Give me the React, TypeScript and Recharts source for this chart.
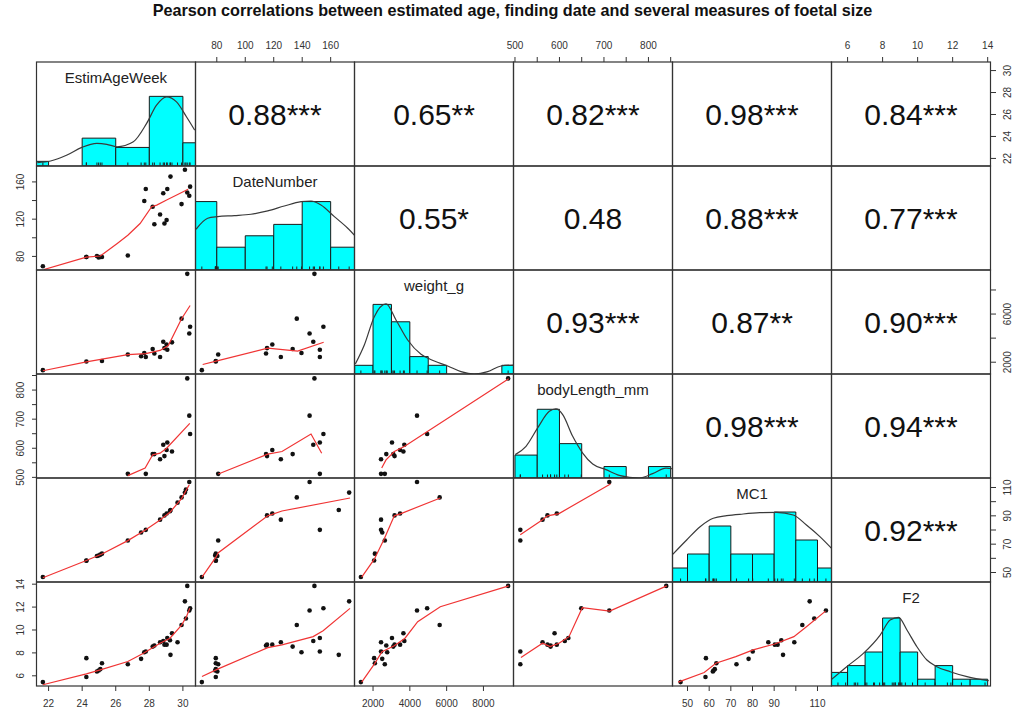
import React from 'react';
import { ComposedChart, XAxis, YAxis, Scatter, Line, ReferenceArea } from 'recharts';

const FONT = '"Liberation Sans", Arial, Helvetica, sans-serif';

const title = 'Pearson correlations between estimated age, finding date and several measures of foetal size';
const varNames = ['EstimAgeWeek', 'DateNumber', 'weight_g', 'bodyLength_mm', 'MC1', 'F2'];

// one entry per foetus, null = not measured
const estimAgeWeek = [21.66, 24.25, 24.25, 24.88, 24.98, 25.08, 25.18, 26.72, 27.51, 27.7, 27.79, 28.2, 28.3, 28.64, 28.83, 28.9, 29.03, 29.07, 29.23, 29.26, 29.35, 29.68, 29.92, 30.12, 30.18, 30.26, 30.38, 30.43];
const dateNumber = [69.5, 79.3, 79.3, 80.4, 78.9, 79.3, 79.3, 81, null, 139.5, 152.4, 133.3, 114.6, 125, 147.8, 115.3, 119, 152.4, null, 165.7, null, null, 136.2, 173, null, 148.6, 145.2, 154.9];
const weightG = [1340, null, 2060, null, null, null, 2100, 2640, 2500, 2770, 2435, 3100, 2720, 2435, 3700, 3170, 3470, 3030, null, null, 3650, null, 5620, null, null, 9340, 4390, 4940];
const bodyLengthMm = [null, null, null, null, null, null, null, 512, null, null, 512, 580, 580, 562, 612, 573, 594, 620, null, null, 589, null, null, null, null, 840, 712, 649];
const mc1 = [46.8, 58.3, 58.5, 61.7, 62.0, 62.6, 63.3, 72.6, 78.2, null, 80.1, null, null, 87.3, null, 90.3, 91.6, null, 93.3, 94.1, null, 99.3, 103.0, 106.4, 108.5, null, 113.9, null];
const f2 = [5.45, 5.89, 7.54, 6.38, 6.46, 6.58, 7.1, 7.01, 7.48, 8.06, 8.12, 8.55, 8.64, 8.93, 9.04, 8.72, 8.72, 9.3, 9.1, 7.83, 9.71, 8.93, 10.43, 12.5, 11.0, 13.85, 11.7, 11.9];
const allVars = [estimAgeWeek, dateNumber, weightG, bodyLengthMm, mc1, f2];

// plotting range of each variable
const ranges = [[21.31, 30.78], [65.4, 177.1], [1020, 9660], [497.8, 855.2], [43.3, 116.7], [5.11, 14.19]];

// axis ticks and which of them carry a label
const ageTicks = [22, 24, 26, 28, 30];
const dateTicks = [80, 100, 120, 140, 160];
const weightTicks = [2000, 4000, 6000, 8000];
const bodyTicks = [500, 550, 600, 650, 700, 750, 800, 850];
const mc1Ticks = [50, 60, 70, 80, 90, 100, 110];
const f2Ticks = [6, 8, 10, 12, 14];
const bodyLabels = [500, 600, 700, 800];
const dateSideLabels = [80, 120, 160];
const weightSideLabels = [2000, 6000];
const mc1BottomLabels = [50, 60, 70, 80, 90, 110];
const mc1SideLabels = [50, 70, 90, 110];
const varTicks = [ageTicks, dateTicks, weightTicks, bodyTicks, mc1Ticks, f2Ticks];
const hLabels = [ageTicks, dateTicks, weightTicks, bodyLabels, mc1BottomLabels, f2Ticks];
const vLabels = [ageTicks, dateSideLabels, weightSideLabels, bodyLabels, mc1SideLabels, f2Ticks];

// histograms: first bin start, bin width, counts, top of y range
const histStart = [20, 60, 1000, 500, 40, 5];
const histWidth = [2, 20, 1000, 50, 10, 1];
const ageCounts = [1, 0, 6, 4, 15, 5];
const dateCounts = [6, 2, 3, 4, 6, 2];
const weightCounts = [1, 8, 6, 2, 1, 0, 0, 0, 1];
const bodyCounts = [2, 6, 3, 0, 1, 0, 1];
const mc1Counts = [1, 2, 4, 2, 2, 5, 3, 1];
const f2Counts = [2, 3, 5, 10, 5, 1, 3, 1, 1];
const histCounts = [ageCounts, dateCounts, weightCounts, bodyCounts, mc1Counts, f2Counts];
const histTop = [22.4, 9.12, 11.95, 9.08, 7.43, 15.3];

// density curves (in count units)
const ageDensity = [[21.33, 0.71], [22.12, 1.08], [23.1, 2.37], [23.98, 4.02], [24.88, 4.88], [25.47, 4.67], [26.07, 4.15], [27.05, 5.23], [27.84, 9.18], [28.43, 13.1], [29.03, 14.9], [29.62, 13.8], [30.21, 10.6], [30.7, 7.74]];
const dateDensity = [[65.4, 3.57], [73.6, 4.54], [80.6, 4.68], [92.3, 4.77], [104, 4.89], [115.8, 5.18], [127.4, 5.61], [139.2, 5.99], [146.2, 6.05], [153.2, 5.7], [162.6, 4.68], [172, 3.66], [177.1, 3.0]];
const weightDensity = [[1038, 1.15], [1526, 3.33], [2069, 6.59], [2705, 8.05], [3248, 6.21], [3882, 3.91], [4607, 2.26], [5330, 1.49], [6057, 0.92], [6780, 0.27], [7503, 0], [8231, 0.27], [8954, 0.92], [9644, 1.03]];
const bodyDensity = [[500.7, 2.04], [524.8, 2.77], [551, 4.37], [577.2, 5.82], [592.2, 6.03], [607.3, 5.53], [629.7, 3.64], [652.2, 2.18], [674.7, 1.22], [704.6, 0.73], [734.5, 0.23], [779.4, 0], [809.5, 0.38], [839.5, 0.87], [854.5, 0.81]];
const mc1Density = [[43.2, 1.98], [49.6, 3], [55.8, 3.95], [61.9, 4.55], [68.1, 4.74], [75.7, 4.86], [83.4, 4.95], [91.1, 4.98], [98.8, 4.79], [104.9, 4.07], [111.1, 3.24], [116.5, 2.4]];
const f2Density = [[5.09, 0.98], [5.95, 2.84], [6.9, 4.8], [7.86, 7.5], [8.43, 9.7], [8.91, 10.1], [9.39, 8.24], [9.96, 5.78], [10.53, 3.82], [11.1, 2.84], [11.86, 2.1], [12.82, 1.37], [14.06, 0.78]];
const densities = [ageDensity, dateDensity, weightDensity, bodyDensity, mc1Density, f2Density];

// lowess lines of the lower panels, [x, y]
const ageDateSmooth = [[21.72, 65.9], [24.25, 79.3], [25.08, 80.4], [26.07, 93.7], [26.72, 102.7], [27.45, 115.3], [28.14, 133.3], [28.44, 135.1], [29.03, 140.5], [29.63, 145.9], [30.31, 152.1]];
const ageWeightSmooth = [[21.66, 1290], [24.25, 2024], [26.72, 2626], [27.79, 2708], [28.64, 2979], [29.13, 3387], [29.92, 5615], [30.43, 6708]];
const ageBodySmooth = [[26.72, 505.8], [27.75, 532], [28.2, 577.5], [28.64, 583], [29.03, 600], [30.41, 685.7]];
const ageMc1Smooth = [[21.66, 46.3], [24.25, 58.5], [25.18, 63.1], [26.72, 72.5], [27.79, 80.1], [28.64, 87], [29.23, 92.5], [29.92, 102.2], [30.38, 111.9]];
const ageF2Smooth = [[21.66, 5.22], [24.25, 6.17], [25.08, 6.52], [26.72, 7.25], [27.65, 7.97], [28.64, 8.84], [29.23, 9.28], [29.92, 10.43], [30.21, 11.16], [30.41, 11.89]];
const dateWeightSmooth = [[70.1, 1812], [80.2, 2106], [115.8, 3167], [136.8, 2922], [155.1, 3657]];
const dateBodySmooth = [[81.1, 511.6], [115.8, 579.8], [125.8, 588.8], [146.2, 649], [153.7, 583]];
const dateMc1Smooth = [[69.6, 46.8], [79.4, 60.8], [81.1, 64], [115.8, 90], [125.8, 93.4], [173.6, 102.6]];
const dateF2Smooth = [[69.6, 5.94], [80.6, 6.58], [115.8, 8.46], [125.8, 8.7], [147.7, 9.42], [154.7, 9.94], [173.6, 11.89]];
const weightBodySmooth = [[2471, 532], [2705, 560], [3158, 589], [3699, 606], [9372, 839]];
const weightMc1Smooth = [[1384, 46.8], [2069, 59.4], [2612, 73.9], [3156, 90], [3520, 91.6], [5655, 102.6]];
const weightF2Smooth = [[1384, 5.45], [2069, 7.02], [2487, 8.11], [3156, 8.63], [3737, 9.28], [4427, 10.72], [5655, 12.03], [9372, 13.85]];
const bodyMc1Smooth = [[511.9, 76.7], [561.9, 87.2], [573.1, 90], [599, 91.6], [714.6, 112.5]];
const bodyF2Smooth = [[513.4, 7.59], [561.9, 8.84], [578.9, 8.55], [599, 8.84], [621.4, 9.42], [651.3, 11.94], [713, 11.65], [841.2, 13.85]];
const mc1F2Smooth = [[45.7, 5.45], [57.7, 6.29], [63.1, 7.1], [72.3, 7.68], [80.3, 8.26], [90.3, 8.78], [99.1, 9.42], [104.9, 10.29], [113.7, 11.65]];
const smoothLines: Record<string, number[][]> = {
  '1-0': ageDateSmooth, '2-0': ageWeightSmooth, '3-0': ageBodySmooth, '4-0': ageMc1Smooth, '5-0': ageF2Smooth,
  '2-1': dateWeightSmooth, '3-1': dateBodySmooth, '4-1': dateMc1Smooth, '5-1': dateF2Smooth,
  '3-2': weightBodySmooth, '4-2': weightMc1Smooth, '5-2': weightF2Smooth,
  '4-3': bodyMc1Smooth, '5-3': bodyF2Smooth,
  '5-4': mc1F2Smooth,
};

// correlations shown in the upper panels
const corrRow1 = ['0.88***', '0.65**', '0.82***', '0.98***', '0.84***'];
const corrRow2 = ['0.55*', '0.48', '0.88***', '0.77***'];
const corrRow3 = ['0.93***', '0.87**', '0.90***'];
const corrRow4 = ['0.98***', '0.94***'];
const corrRow5 = ['0.92***'];
const corrRows = [corrRow1, corrRow2, corrRow3, corrRow4, corrRow5];

const X0 = 36.5;
const Y0 = 62;
const CW = 159;
const CH = 104;
const PAD = 30;

const pairPoints = (c: number, r: number) =>
  estimAgeWeek
    .map((_, i) => ({ x: allVars[c][i], y: allVars[r][i] }))
    .filter((p) => p.x != null && p.y != null);

const makeTick = (side: string, labels: number[]) => (props: any) => {
  const { x, y, payload } = props;
  const v = payload.value;
  if (!labels.includes(v)) return <g />;
  const st = { fontSize: 10, fill: '#333', fontFamily: FONT };
  if (side === 'top') return <text x={x} y={y - 6} textAnchor="middle" {...st}>{v}</text>;
  if (side === 'bottom') return <text x={x} y={y + 14} textAnchor="middle" {...st}>{v}</text>;
  if (side === 'left') return <text transform={`translate(${x - 6.5},${y}) rotate(-90)`} textAnchor="middle" {...st}>{v}</text>;
  return <text transform={`translate(${x + 13},${y}) rotate(-90)`} textAnchor="middle" {...st}>{v}</text>;
};

const Dot = (props: any) => <circle cx={props.cx} cy={props.cy} r={2.3} fill="#111" />;
const Rug = (props: any) => <line x1={props.cx} x2={props.cx} y1={props.cy} y2={props.cy - 3.5} stroke="#222" strokeWidth={1} />;
const NoShape = () => <g />;

const PanelCell = ({ r, c }: { r: number; c: number }) => {
  const top = r === 0 && c % 2 === 1;
  const bottom = r === 5 && c % 2 === 0;
  const left = c === 0 && r % 2 === 1;
  const right = c === 5 && r % 2 === 0;
  const w = CW + (left ? PAD : 0) + (right ? PAD : 0);
  const h = CH + (top ? PAD : 0) + (bottom ? PAD : 0);
  const diag = r === c;
  const yDomain = diag ? [0, histTop[c]] : ranges[r];
  const xSide = top ? 'top' : 'bottom';
  const ySide = left ? 'left' : 'right';

  return (
    <div style={{ position: 'absolute', left: X0 + c * CW - (left ? PAD : 0), top: Y0 + r * CH - (top ? PAD : 0) }}>
      <ComposedChart width={w} height={h} margin={{ top: 0, right: 0, bottom: 0, left: 0 }}>
        <XAxis
          type="number"
          dataKey="x"
          domain={ranges[c]}
          allowDataOverflow
          hide={!(top || bottom)}
          orientation={xSide}
          height={PAD}
          ticks={varTicks[c]}
          interval={0}
          tickSize={5}
          axisLine={false}
          tickLine={{ stroke: '#333' }}
          tick={makeTick(xSide, hLabels[c])}
        />
        <YAxis
          type="number"
          dataKey="y"
          domain={yDomain}
          allowDataOverflow
          hide={!(left || right)}
          orientation={ySide}
          width={PAD}
          ticks={diag ? undefined : varTicks[r]}
          interval={0}
          tickSize={5}
          axisLine={false}
          tickLine={{ stroke: '#333' }}
          tick={makeTick(ySide, vLabels[r])}
        />
        {diag &&
          histCounts[c].map((n, i) =>
            n > 0 ? (
              <ReferenceArea
                key={i}
                x1={histStart[c] + i * histWidth[c]}
                x2={histStart[c] + (i + 1) * histWidth[c]}
                y1={0}
                y2={n}
                fill="#00ffff"
                fillOpacity={1}
                stroke="#1a1a1a"
                strokeWidth={1}
                ifOverflow="hidden"
              />
            ) : null
          )}
        {diag && (
          <Line
            data={densities[c].map(([x, y]) => ({ x, y }))}
            dataKey="y"
            type="monotone"
            stroke="#3a3a3a"
            strokeWidth={1.2}
            dot={false}
            activeDot={false}
            isAnimationActive={false}
          />
        )}
        {diag && (
          <Scatter
            data={allVars[c].filter((v) => v != null).map((v) => ({ x: v, y: 0 }))}
            shape={Rug}
            isAnimationActive={false}
          />
        )}
        {r > c && <Scatter data={pairPoints(c, r)} shape={Dot} isAnimationActive={false} />}
        {r > c && (
          <Scatter
            data={smoothLines[`${r}-${c}`].map(([x, y]) => ({ x, y }))}
            line={{ stroke: '#f03434', strokeWidth: 1.2 }}
            shape={NoShape}
            isAnimationActive={false}
          />
        )}
      </ComposedChart>
    </div>
  );
};

const App = () => {
  const cells = [];
  for (let r = 0; r < 6; r++) for (let c = 0; c < 6; c++) cells.push(<PanelCell key={`${r}-${c}`} r={r} c={c} />);

  return (
    <div style={{ position: 'absolute', left: 0, top: 0, width: 1013, height: 711, overflow: 'hidden', background: '#fff' }}>
      <style>{'.recharts-surface{overflow:visible}.recharts-wrapper{overflow:visible}'}</style>
      {cells}
      <svg width={1013} height={711} style={{ position: 'absolute', left: 0, top: 0, pointerEvents: 'none' }}>
        <text x={512.5} y={16} textAnchor="middle" fontFamily={FONT} fontWeight="bold" fontSize={16.2} fill="#111">
          {title}
        </text>
        {[0, 1, 2, 3, 4, 5].map((r) =>
          [0, 1, 2, 3, 4, 5].map((c) => (
            <rect key={`b${r}-${c}`} x={X0 + c * CW} y={Y0 + r * CH} width={CW} height={CH} fill="none" stroke="#333" strokeWidth={1.2} />
          ))
        )}
        {varNames.map((n, i) => (
          <text key={n} x={X0 + i * CW + CW / 2} y={Y0 + i * CH + 21} textAnchor="middle" fontFamily={FONT} fontSize={15} fill="#222">
            {n}
          </text>
        ))}
        {corrRows.map((row, r) =>
          row.map((t, k) => {
            const c = r + 1 + k;
            return (
              <text key={`t${r}-${c}`} x={X0 + c * CW + CW / 2} y={Y0 + r * CH + CH / 2 + 10.7} textAnchor="middle" fontFamily={FONT} fontSize={30} fill="#111">
                {t}
              </text>
            );
          })
        )}
      </svg>
    </div>
  );
};

export default App;
